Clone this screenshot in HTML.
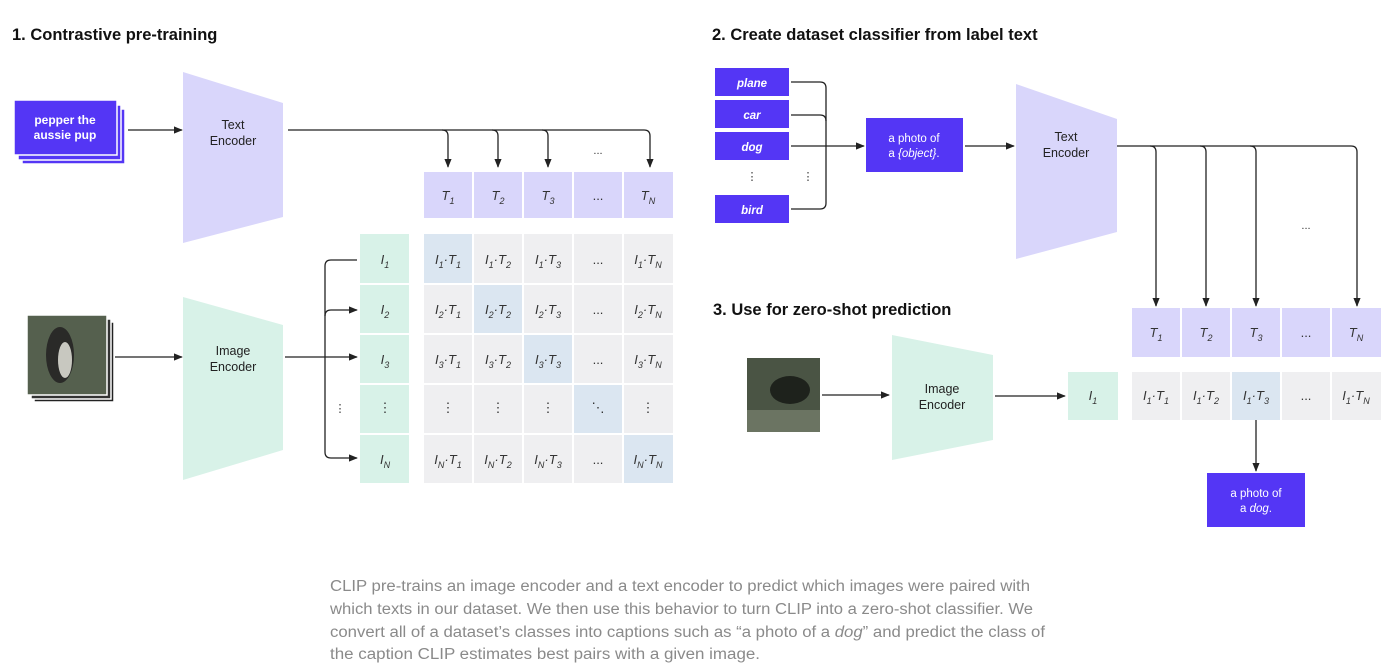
<!DOCTYPE html>
<html><head><meta charset="utf-8"><style>
html,body{margin:0;padding:0;background:#fff;width:1400px;height:668px;overflow:hidden}
svg{display:block}
.t{font-family:"Liberation Sans",sans-serif}
.m{font-family:"Liberation Sans",sans-serif;font-style:italic;font-size:13px;fill:#333}
.h{font-family:"Liberation Sans",sans-serif;font-weight:bold;font-size:16.5px;fill:#111}
.ln{stroke:#222;stroke-width:1.3;fill:none}
.cap{font-family:"Liberation Sans",sans-serif;font-size:15.5px;fill:#8a8a8a}
</style></head><body>
<svg width="1400" height="668" viewBox="0 0 1400 668" xmlns="http://www.w3.org/2000/svg">
<defs>
<marker id="a" viewBox="0 0 10 10" refX="9" refY="5" markerWidth="7" markerHeight="7" orient="auto"><path d="M0,1 L10,5 L0,9 z" fill="#222"/></marker>
</defs>
<text class="h" x="12" y="40">1. Contrastive pre-training</text>
<text class="h" x="712" y="40">2. Create dataset classifier from label text</text>
<text class="h" x="713" y="315">3. Use for zero-shot prediction</text>

<!-- text stack -->
<rect x="22" y="109" width="103" height="55" fill="#5436f5" stroke="#fff" stroke-width="1.5"/>
<rect x="18" y="105" width="103" height="55" fill="#5436f5" stroke="#fff" stroke-width="1.5"/>
<rect x="14" y="100" width="103" height="55" fill="#5436f5" stroke="#fff" stroke-width="1.5"/>
<text class="t" x="65" y="124" font-size="12" font-weight="bold" fill="#fff" text-anchor="middle">pepper the</text>
<text class="t" x="65" y="139" font-size="12" font-weight="bold" fill="#fff" text-anchor="middle">aussie pup</text>
<line class="ln" x1="128" y1="130" x2="182" y2="130" marker-end="url(#a)"/>
<polygon points="183,72 283,103 283,217 183,243" fill="#d9d6fb"/>
<text class="t" x="233" y="129" font-size="12.5" fill="#222" text-anchor="middle">Text</text>
<text class="t" x="233" y="145" font-size="12.5" fill="#222" text-anchor="middle">Encoder</text>
<path class="ln" d="M288,130 H644 Q650,130 650,136 V167" marker-end="url(#a)"/>
<path class="ln" d="M442,130 Q448,130 448,136 V167" marker-end="url(#a)"/>
<path class="ln" d="M492,130 Q498,130 498,136 V167" marker-end="url(#a)"/>
<path class="ln" d="M542,130 Q548,130 548,136 V167" marker-end="url(#a)"/>
<text class="t" x="598" y="154" font-size="11" fill="#333" text-anchor="middle">...</text>

<g fill="#d9d6fb">
<rect x="424" y="172" width="48" height="46"/><rect x="474" y="172" width="48" height="46"/><rect x="524" y="172" width="48" height="46"/><rect x="574" y="172" width="48" height="46"/><rect x="624" y="172" width="49" height="46"/>
</g>
<g class="m" text-anchor="middle">
<text x="448" y="200">T<tspan font-size="9" dy="4">1</tspan></text>
<text x="498" y="200">T<tspan font-size="9" dy="4">2</tspan></text>
<text x="548" y="200">T<tspan font-size="9" dy="4">3</tspan></text>
<text x="598" y="200" font-style="normal">...</text>
<text x="648" y="200">T<tspan font-size="9" dy="4">N</tspan></text>
</g>

<g fill="#d8f2e8">
<rect x="360" y="234" width="49" height="49"/><rect x="360" y="285" width="49" height="48"/><rect x="360" y="335" width="49" height="48"/><rect x="360" y="385" width="49" height="48"/><rect x="360" y="435" width="49" height="48"/>
</g>
<g class="m" text-anchor="middle">
<text x="385" y="264">I<tspan font-size="9" dy="4">1</tspan></text>
<text x="385" y="314">I<tspan font-size="9" dy="4">2</tspan></text>
<text x="385" y="364">I<tspan font-size="9" dy="4">3</tspan></text>
<text x="385" y="412" font-style="normal">⋮</text>
<text x="385" y="464">I<tspan font-size="9" dy="4">N</tspan></text>
</g>

<g fill="#efeff1">
<rect x="424" y="234" width="48" height="49" fill="#dbe6f1"/><rect x="474" y="234" width="48" height="49"/><rect x="524" y="234" width="48" height="49"/><rect x="574" y="234" width="48" height="49"/><rect x="624" y="234" width="49" height="49"/>
<rect x="424" y="285" width="48" height="48"/><rect x="474" y="285" width="48" height="48" fill="#dbe6f1"/><rect x="524" y="285" width="48" height="48"/><rect x="574" y="285" width="48" height="48"/><rect x="624" y="285" width="49" height="48"/>
<rect x="424" y="335" width="48" height="48"/><rect x="474" y="335" width="48" height="48"/><rect x="524" y="335" width="48" height="48" fill="#dbe6f1"/><rect x="574" y="335" width="48" height="48"/><rect x="624" y="335" width="49" height="48"/>
<rect x="424" y="385" width="48" height="48"/><rect x="474" y="385" width="48" height="48"/><rect x="524" y="385" width="48" height="48"/><rect x="574" y="385" width="48" height="48" fill="#dbe6f1"/><rect x="624" y="385" width="49" height="48"/>
<rect x="424" y="435" width="48" height="48"/><rect x="474" y="435" width="48" height="48"/><rect x="524" y="435" width="48" height="48"/><rect x="574" y="435" width="48" height="48"/><rect x="624" y="435" width="49" height="48" fill="#dbe6f1"/>
</g>
<g class="m" text-anchor="middle">
<text x="448" y="264">I<tspan font-size="9" dy="4">1</tspan><tspan dy="-4">·T</tspan><tspan font-size="9" dy="4">1</tspan></text>
<text x="498" y="264">I<tspan font-size="9" dy="4">1</tspan><tspan dy="-4">·T</tspan><tspan font-size="9" dy="4">2</tspan></text>
<text x="548" y="264">I<tspan font-size="9" dy="4">1</tspan><tspan dy="-4">·T</tspan><tspan font-size="9" dy="4">3</tspan></text>
<text x="598" y="264" font-style="normal">...</text>
<text x="648" y="264">I<tspan font-size="9" dy="4">1</tspan><tspan dy="-4">·T</tspan><tspan font-size="9" dy="4">N</tspan></text>
<text x="448" y="314">I<tspan font-size="9" dy="4">2</tspan><tspan dy="-4">·T</tspan><tspan font-size="9" dy="4">1</tspan></text>
<text x="498" y="314">I<tspan font-size="9" dy="4">2</tspan><tspan dy="-4">·T</tspan><tspan font-size="9" dy="4">2</tspan></text>
<text x="548" y="314">I<tspan font-size="9" dy="4">2</tspan><tspan dy="-4">·T</tspan><tspan font-size="9" dy="4">3</tspan></text>
<text x="598" y="314" font-style="normal">...</text>
<text x="648" y="314">I<tspan font-size="9" dy="4">2</tspan><tspan dy="-4">·T</tspan><tspan font-size="9" dy="4">N</tspan></text>
<text x="448" y="364">I<tspan font-size="9" dy="4">3</tspan><tspan dy="-4">·T</tspan><tspan font-size="9" dy="4">1</tspan></text>
<text x="498" y="364">I<tspan font-size="9" dy="4">3</tspan><tspan dy="-4">·T</tspan><tspan font-size="9" dy="4">2</tspan></text>
<text x="548" y="364">I<tspan font-size="9" dy="4">3</tspan><tspan dy="-4">·T</tspan><tspan font-size="9" dy="4">3</tspan></text>
<text x="598" y="364" font-style="normal">...</text>
<text x="648" y="364">I<tspan font-size="9" dy="4">3</tspan><tspan dy="-4">·T</tspan><tspan font-size="9" dy="4">N</tspan></text>
<text x="448" y="412" font-style="normal">⋮</text><text x="498" y="412" font-style="normal">⋮</text><text x="548" y="412" font-style="normal">⋮</text><text x="598" y="412" font-style="normal">⋱</text><text x="648" y="412" font-style="normal">⋮</text>
<text x="448" y="464">I<tspan font-size="9" dy="4">N</tspan><tspan dy="-4">·T</tspan><tspan font-size="9" dy="4">1</tspan></text>
<text x="498" y="464">I<tspan font-size="9" dy="4">N</tspan><tspan dy="-4">·T</tspan><tspan font-size="9" dy="4">2</tspan></text>
<text x="548" y="464">I<tspan font-size="9" dy="4">N</tspan><tspan dy="-4">·T</tspan><tspan font-size="9" dy="4">3</tspan></text>
<text x="598" y="464" font-style="normal">...</text>
<text x="648" y="464">I<tspan font-size="9" dy="4">N</tspan><tspan dy="-4">·T</tspan><tspan font-size="9" dy="4">N</tspan></text>
</g>

<rect x="34" y="322" width="80" height="80" fill="#222" stroke="#fff" stroke-width="1.5"/>
<rect x="31" y="319" width="80" height="80" fill="#333" stroke="#fff" stroke-width="1.5"/>
<rect x="27" y="315" width="80" height="80" fill="#55604e" stroke="#fff" stroke-width="1.5"/>
<ellipse cx="60" cy="355" rx="14" ry="28" fill="#2a2a28"/>
<ellipse cx="65" cy="360" rx="7" ry="18" fill="#c8c8c0"/>
<line class="ln" x1="115" y1="357" x2="182" y2="357" marker-end="url(#a)"/>
<polygon points="183,297 283,325 283,450 183,480" fill="#d8f2e8"/>
<text class="t" x="233" y="355" font-size="12.5" fill="#222" text-anchor="middle">Image</text>
<text class="t" x="233" y="371" font-size="12.5" fill="#222" text-anchor="middle">Encoder</text>
<line class="ln" x1="285" y1="357" x2="357" y2="357" marker-end="url(#a)"/>
<path class="ln" d="M357,260 H331 Q325,260 325,266 V452 Q325,458 331,458 H357" marker-end="url(#a)"/>
<path class="ln" d="M325,316 Q325,310 331,310 H357" marker-end="url(#a)"/>
<text class="t" x="340" y="412" font-size="11" fill="#333" text-anchor="middle">⋮</text>

<g fill="#5436f5">
<rect x="715" y="68" width="74" height="28"/><rect x="715" y="100" width="74" height="28"/><rect x="715" y="132" width="74" height="28"/><rect x="715" y="195" width="74" height="28"/>
</g>
<g class="t" font-size="11.5" font-weight="bold" font-style="italic" fill="#fff" text-anchor="middle">
<text x="752" y="87">plane</text><text x="752" y="119">car</text><text x="752" y="151">dog</text><text x="752" y="214">bird</text>
</g>
<text class="t" x="752" y="180" font-size="11" fill="#333" text-anchor="middle">⋮</text>
<text class="t" x="808" y="180" font-size="11" fill="#333" text-anchor="middle">⋮</text>
<path class="ln" d="M791,82 H820 Q826,82 826,88 V203 Q826,209 820,209 H791"/>
<path class="ln" d="M791,115 H820 Q826,115 826,121"/>
<line class="ln" x1="791" y1="146" x2="864" y2="146" marker-end="url(#a)"/>
<rect x="866" y="118" width="97" height="54" fill="#5436f5"/>
<text class="t" x="914" y="142" font-size="11.5" fill="#fff" text-anchor="middle">a photo of</text>
<text class="t" x="914" y="157" font-size="11.5" fill="#fff" text-anchor="middle">a <tspan font-style="italic">{object}</tspan>.</text>
<line class="ln" x1="965" y1="146" x2="1014" y2="146" marker-end="url(#a)"/>
<polygon points="1016,84 1117,119 1117,232 1016,259" fill="#d9d6fb"/>
<text class="t" x="1066" y="141" font-size="12.5" fill="#222" text-anchor="middle">Text</text>
<text class="t" x="1066" y="157" font-size="12.5" fill="#222" text-anchor="middle">Encoder</text>
<path class="ln" d="M1117,146 H1351 Q1357,146 1357,152 V306" marker-end="url(#a)"/>
<path class="ln" d="M1150,146 Q1156,146 1156,152 V306" marker-end="url(#a)"/>
<path class="ln" d="M1200,146 Q1206,146 1206,152 V306" marker-end="url(#a)"/>
<path class="ln" d="M1250,146 Q1256,146 1256,152 V306" marker-end="url(#a)"/>
<text class="t" x="1306" y="229" font-size="11" fill="#333" text-anchor="middle">...</text>

<g fill="#d9d6fb">
<rect x="1132" y="308" width="48" height="49"/><rect x="1182" y="308" width="48" height="49"/><rect x="1232" y="308" width="48" height="49"/><rect x="1282" y="308" width="48" height="49"/><rect x="1332" y="308" width="49" height="49"/>
</g>
<g class="m" text-anchor="middle">
<text x="1156" y="337">T<tspan font-size="9" dy="4">1</tspan></text>
<text x="1206" y="337">T<tspan font-size="9" dy="4">2</tspan></text>
<text x="1256" y="337">T<tspan font-size="9" dy="4">3</tspan></text>
<text x="1306" y="337" font-style="normal">...</text>
<text x="1356" y="337">T<tspan font-size="9" dy="4">N</tspan></text>
</g>

<rect x="747" y="358" width="73" height="74" fill="#4a5444"/>
<ellipse cx="790" cy="390" rx="20" ry="14" fill="#1e221c"/>
<rect x="747" y="410" width="73" height="22" fill="#6b7462"/>
<line class="ln" x1="822" y1="395" x2="889" y2="395" marker-end="url(#a)"/>
<polygon points="892,335 993,355 993,440 892,460" fill="#d8f2e8"/>
<text class="t" x="942" y="393" font-size="12.5" fill="#222" text-anchor="middle">Image</text>
<text class="t" x="942" y="409" font-size="12.5" fill="#222" text-anchor="middle">Encoder</text>
<line class="ln" x1="995" y1="396" x2="1065" y2="396" marker-end="url(#a)"/>
<rect x="1068" y="372" width="50" height="48" fill="#d8f2e8"/>
<g fill="#efeff1">
<rect x="1132" y="372" width="48" height="48"/><rect x="1182" y="372" width="48" height="48"/><rect x="1232" y="372" width="48" height="48" fill="#dbe6f1"/><rect x="1282" y="372" width="48" height="48"/><rect x="1332" y="372" width="49" height="48"/>
</g>
<g class="m" text-anchor="middle">
<text x="1093" y="400">I<tspan font-size="9" dy="4">1</tspan></text>
<text x="1156" y="400">I<tspan font-size="9" dy="4">1</tspan><tspan dy="-4">·T</tspan><tspan font-size="9" dy="4">1</tspan></text>
<text x="1206" y="400">I<tspan font-size="9" dy="4">1</tspan><tspan dy="-4">·T</tspan><tspan font-size="9" dy="4">2</tspan></text>
<text x="1256" y="400">I<tspan font-size="9" dy="4">1</tspan><tspan dy="-4">·T</tspan><tspan font-size="9" dy="4">3</tspan></text>
<text x="1306" y="400" font-style="normal">...</text>
<text x="1356" y="400">I<tspan font-size="9" dy="4">1</tspan><tspan dy="-4">·T</tspan><tspan font-size="9" dy="4">N</tspan></text>
</g>
<line class="ln" x1="1256" y1="420" x2="1256" y2="471" marker-end="url(#a)"/>
<rect x="1207" y="473" width="98" height="54" fill="#5436f5"/>
<text class="t" x="1256" y="497" font-size="11.5" fill="#fff" text-anchor="middle">a photo of</text>
<text class="t" x="1256" y="512" font-size="11.5" fill="#fff" text-anchor="middle">a <tspan font-style="italic">dog</tspan>.</text>

<text class="cap" x="330" y="591" textLength="700" lengthAdjust="spacingAndGlyphs">CLIP pre-trains an image encoder and a text encoder to predict which images were paired with</text>
<text class="cap" x="330" y="614" textLength="703" lengthAdjust="spacingAndGlyphs">which texts in our dataset. We then use this behavior to turn CLIP into a zero-shot classifier. We</text>
<text class="cap" x="330" y="637" textLength="715" lengthAdjust="spacingAndGlyphs">convert all of a dataset’s classes into captions such as “a photo of a <tspan font-style="italic">dog</tspan>” and predict the class of</text>
<text class="cap" x="330" y="659" textLength="430" lengthAdjust="spacingAndGlyphs">the caption CLIP estimates best pairs with a given image.</text>
</svg>
</body></html>
